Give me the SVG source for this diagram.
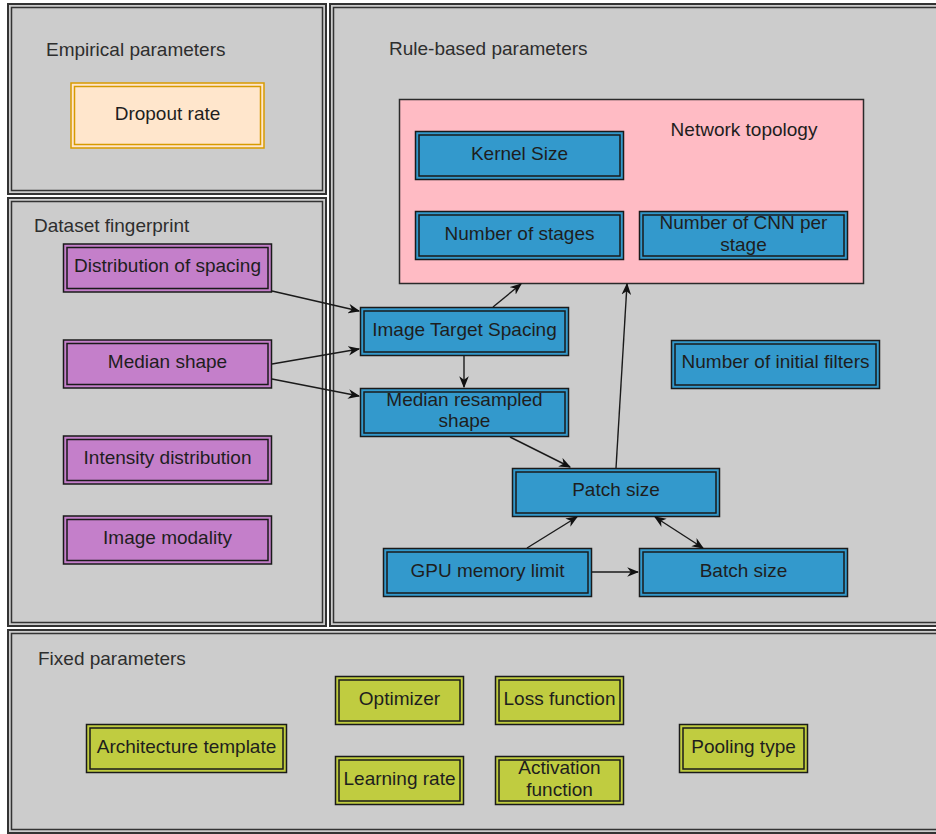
<svg xmlns="http://www.w3.org/2000/svg" width="936" height="834" viewBox="0 0 936 834">
  <style>
    text { font-family: "Liberation Sans", Arial, sans-serif; font-size: 19px; fill: #1e1e1e; text-anchor: middle; dominant-baseline: central; }
    .title { text-anchor: start; fill: #2e2e2e; }
    .panel { fill: #cccccc; stroke: #333333; stroke-width: 2; }
    .panel-in { fill: none; stroke: #333333; stroke-width: 1.5; }
    .blue { fill: #3399cc; stroke: #1a1a1a; stroke-width: 1.5; }
    .purple { fill: #c47fca; stroke: #1a1a1a; stroke-width: 1.5; }
    .olive { fill: #c0cc40; stroke: #1a1a1a; stroke-width: 1.5; }
    .orange { fill: #ffe6cc; stroke: #d79b00; stroke-width: 1.5; }
    .inner { fill: none; stroke-width: 1.5; }
    .dk { stroke: #1a1a1a; }
    .or { stroke: #d79b00; }
    .edge { fill: none; stroke: #1a1a1a; stroke-width: 1.4; }
  </style>
  <defs>
    <marker id="arrow" viewBox="0 0 10 8" refX="9" refY="4" markerWidth="12" markerHeight="10" markerUnits="userSpaceOnUse" orient="auto-start-reverse">
      <path d="M0,0 L10,4 L0,8 L3,4 Z" fill="#111111"/>
    </marker>
  </defs>

  <rect width="936" height="834" fill="#ffffff"/>

  <!-- panels -->
  <g id="panel-empirical">
    <rect class="panel" x="8" y="4" width="318" height="190"/>
    <rect class="panel-in" x="11.5" y="7.5" width="311" height="183"/>
    <text class="title" x="46" y="49">Empirical parameters</text>
  </g>
  <g id="panel-dataset">
    <rect class="panel" x="8" y="198" width="318" height="428"/>
    <rect class="panel-in" x="11.5" y="201.5" width="311" height="421"/>
    <text class="title" x="34" y="225">Dataset fingerprint</text>
  </g>
  <g id="panel-rule">
    <rect class="panel" x="330" y="4" width="612" height="622"/>
    <rect class="panel-in" x="333.5" y="7.5" width="606" height="615"/>
    <text class="title" x="389" y="48">Rule-based parameters</text>
  </g>
  <g id="panel-fixed">
    <rect class="panel" x="8" y="630" width="934" height="203"/>
    <rect class="panel-in" x="11.5" y="633.5" width="928" height="196"/>
    <text class="title" x="38" y="658">Fixed parameters</text>
  </g>

  <!-- empirical -->
  <g id="dropout-rate">
    <rect class="orange" x="71" y="83" width="193" height="65"/>
    <rect class="inner or" x="74.5" y="86.5" width="186" height="58"/>
    <text x="167.5" y="113">Dropout rate</text>
  </g>

  <!-- dataset fingerprint -->
  <g id="distribution-of-spacing">
    <rect class="purple" x="63.5" y="244" width="208" height="48"/>
    <rect class="inner dk" x="67" y="247.5" width="201" height="41"/>
    <text x="167.5" y="265">Distribution of spacing</text>
  </g>
  <g id="median-shape">
    <rect class="purple" x="63.5" y="340" width="208" height="48"/>
    <rect class="inner dk" x="67" y="343.5" width="201" height="41"/>
    <text x="167.5" y="361">Median shape</text>
  </g>
  <g id="intensity-distribution">
    <rect class="purple" x="63.5" y="436" width="208" height="48"/>
    <rect class="inner dk" x="67" y="439.5" width="201" height="41"/>
    <text x="167.5" y="457">Intensity distribution</text>
  </g>
  <g id="image-modality">
    <rect class="purple" x="63.5" y="516" width="208" height="48"/>
    <rect class="inner dk" x="67" y="519.5" width="201" height="41"/>
    <text x="167.5" y="537">Image modality</text>
  </g>

  <!-- rule-based -->
  <g id="network-topology">
    <rect x="399.5" y="99.5" width="464" height="184" fill="#ffbbc4" stroke="#2a2a2a" stroke-width="1.5"/>
    <text x="744" y="129">Network topology</text>
  </g>
  <g id="kernel-size">
    <rect class="blue" x="415.5" y="131.5" width="208" height="48"/>
    <rect class="inner dk" x="419" y="135" width="201" height="41"/>
    <text x="519.5" y="153">Kernel Size</text>
  </g>
  <g id="number-of-stages">
    <rect class="blue" x="415.5" y="211.5" width="208" height="48"/>
    <rect class="inner dk" x="419" y="215" width="201" height="41"/>
    <text x="519.5" y="233">Number of stages</text>
  </g>
  <g id="cnn-per-stage">
    <rect class="blue" x="639.5" y="211.5" width="208" height="48"/>
    <rect class="inner dk" x="643" y="215" width="201" height="41"/>
    <text x="743.5" y="222">Number of CNN per</text>
    <text x="743.5" y="244">stage</text>
  </g>
  <g id="image-target-spacing">
    <rect class="blue" x="360.5" y="307.5" width="208" height="48"/>
    <rect class="inner dk" x="364" y="311" width="201" height="41"/>
    <text x="464.5" y="329">Image Target Spacing</text>
  </g>
  <g id="median-resampled-shape">
    <rect class="blue" x="360.5" y="388.5" width="208" height="48"/>
    <rect class="inner dk" x="364" y="392" width="201" height="41"/>
    <text x="464.5" y="399">Median resampled</text>
    <text x="464.5" y="420">shape</text>
  </g>
  <g id="initial-filters">
    <rect class="blue" x="671.5" y="340.5" width="208" height="48"/>
    <rect class="inner dk" x="675" y="344" width="201" height="41"/>
    <text x="775.5" y="361">Number of initial filters</text>
  </g>
  <g id="patch-size">
    <rect class="blue" x="512.5" y="468.5" width="207" height="48"/>
    <rect class="inner dk" x="516" y="472" width="200" height="41"/>
    <text x="616" y="489">Patch size</text>
  </g>
  <g id="gpu-memory-limit">
    <rect class="blue" x="383.5" y="548.5" width="208" height="48"/>
    <rect class="inner dk" x="387" y="552" width="201" height="41"/>
    <text x="487.5" y="570">GPU memory limit</text>
  </g>
  <g id="batch-size">
    <rect class="blue" x="639.5" y="548.5" width="208" height="48"/>
    <rect class="inner dk" x="643" y="552" width="201" height="41"/>
    <text x="743.5" y="570">Batch size</text>
  </g>

  <!-- fixed -->
  <g id="architecture-template">
    <rect class="olive" x="86.5" y="724.5" width="200" height="48"/>
    <rect class="inner dk" x="90" y="728" width="193" height="41"/>
    <text x="186.5" y="746">Architecture template</text>
  </g>
  <g id="optimizer">
    <rect class="olive" x="335.5" y="676.5" width="128" height="48"/>
    <rect class="inner dk" x="339" y="680" width="121" height="41"/>
    <text x="399.5" y="698">Optimizer</text>
  </g>
  <g id="learning-rate">
    <rect class="olive" x="335.5" y="756.5" width="128" height="48"/>
    <rect class="inner dk" x="339" y="760" width="121" height="41"/>
    <text x="399.5" y="778">Learning rate</text>
  </g>
  <g id="loss-function">
    <rect class="olive" x="495.5" y="676.5" width="128" height="48"/>
    <rect class="inner dk" x="499" y="680" width="121" height="41"/>
    <text x="559.5" y="698">Loss function</text>
  </g>
  <g id="activation-function">
    <rect class="olive" x="495.5" y="756.5" width="128" height="48"/>
    <rect class="inner dk" x="499" y="760" width="121" height="41"/>
    <text x="559.5" y="767">Activation</text>
    <text x="559.5" y="789">function</text>
  </g>
  <g id="pooling-type">
    <rect class="olive" x="679.5" y="724.5" width="128" height="48"/>
    <rect class="inner dk" x="683" y="728" width="121" height="41"/>
    <text x="743.5" y="746">Pooling type</text>
  </g>

  <!-- connectors -->
  <g id="connectors">
    <path class="edge" d="M272,291 L359,311" marker-end="url(#arrow)"/>
    <path class="edge" d="M272,364 L359,349" marker-end="url(#arrow)"/>
    <path class="edge" d="M272,379 L359,396" marker-end="url(#arrow)"/>
    <path class="edge" d="M493,307 L521,284" marker-end="url(#arrow)"/>
    <path class="edge" d="M464,356 L464,387" marker-end="url(#arrow)"/>
    <path class="edge" d="M510,437 L570,467" marker-end="url(#arrow)"/>
    <path class="edge" d="M616,468 L627,284" marker-end="url(#arrow)"/>
    <path class="edge" d="M527,548 L577,517" marker-end="url(#arrow)"/>
    <path class="edge" d="M592,572 L638,572" marker-end="url(#arrow)"/>
    <path class="edge" d="M655,517 L703,548" marker-start="url(#arrow)" marker-end="url(#arrow)"/>
  </g>
</svg>
